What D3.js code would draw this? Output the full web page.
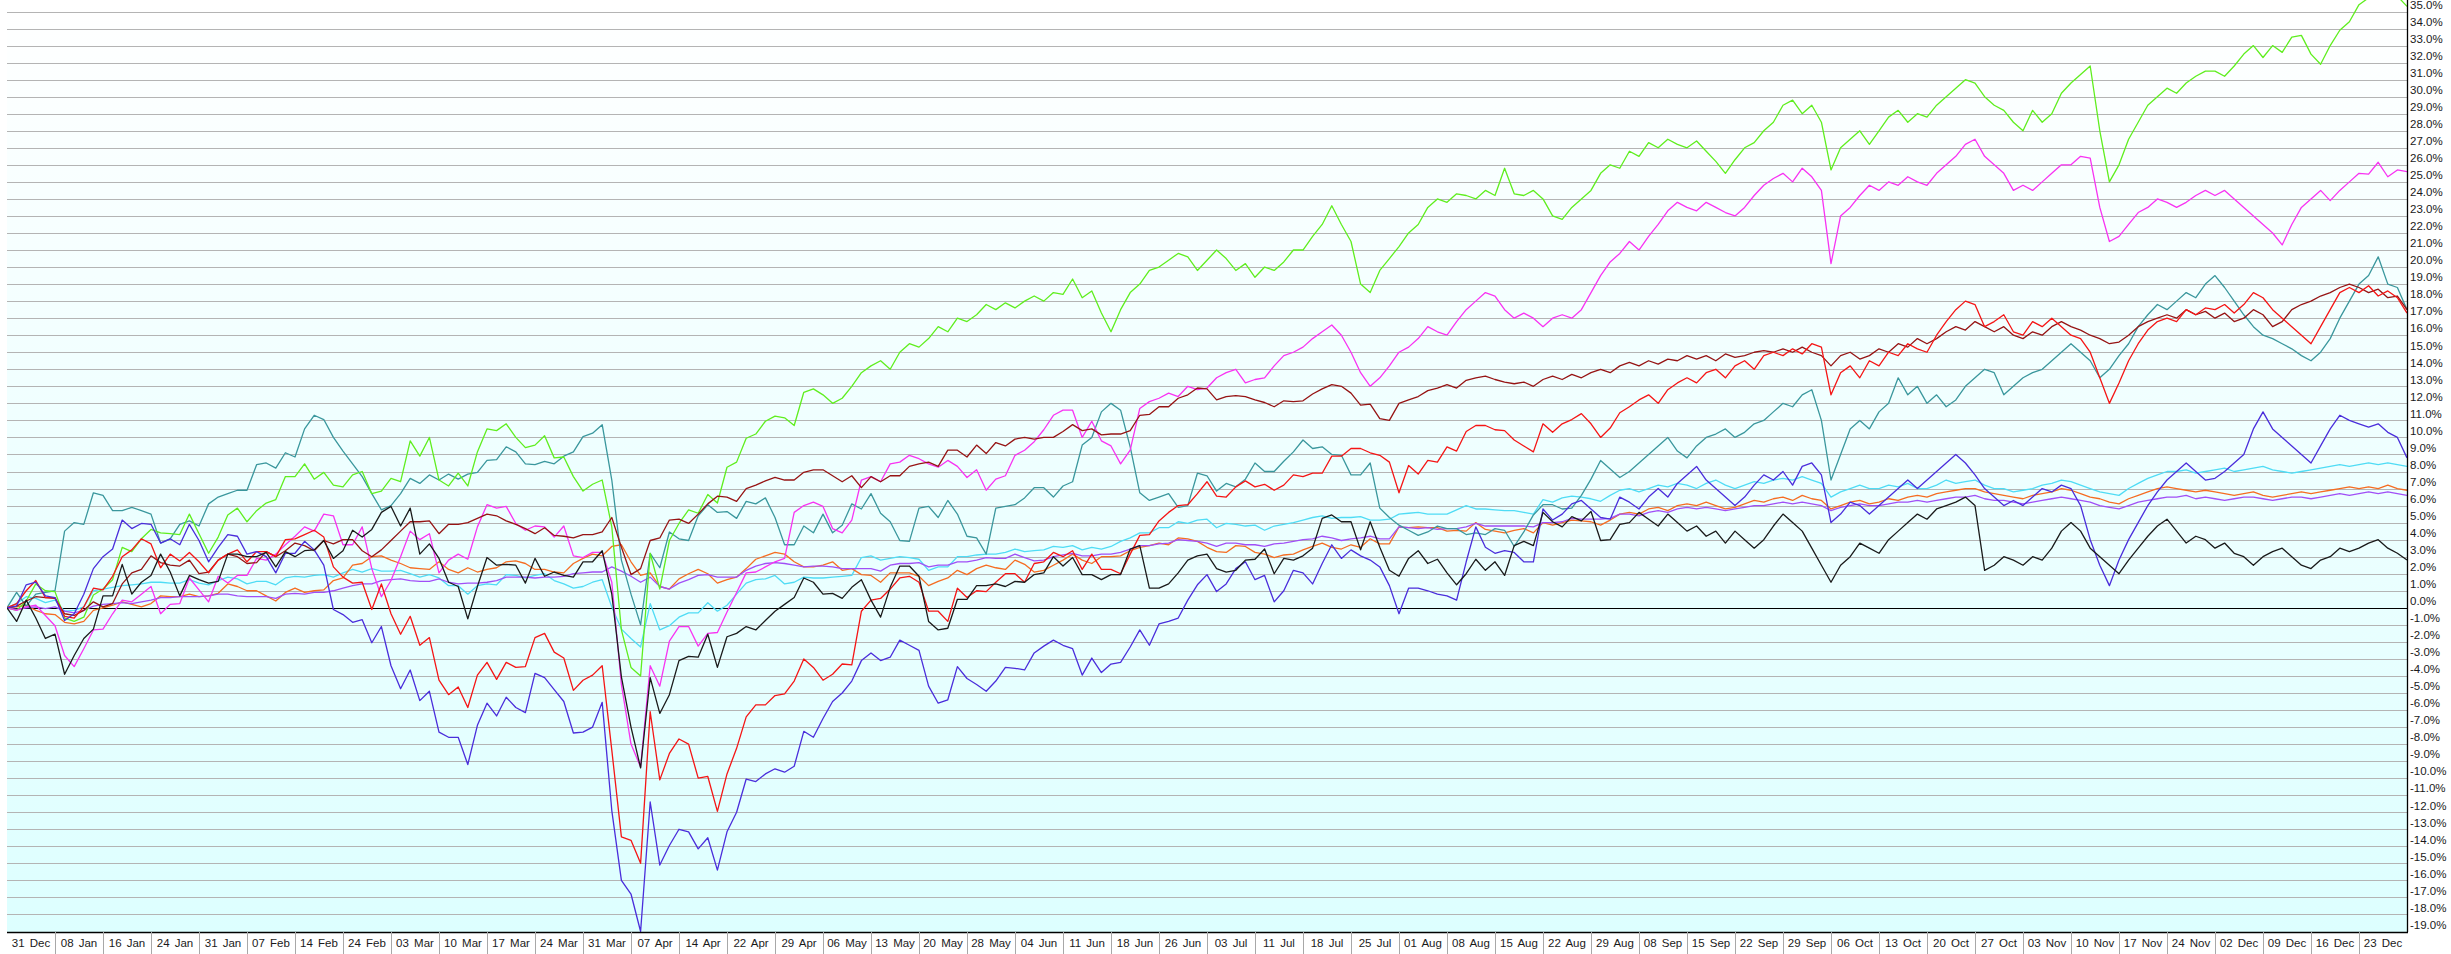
<!DOCTYPE html>
<html><head><meta charset="utf-8">
<script src="https://cdn.jsdelivr.net/npm/d3@7"></script>
<style>
body{margin:0;background:#fff;}
svg{display:block;}
text{font-family:"Liberation Sans",Arial,sans-serif;}
</style></head>
<body><svg id="chart" width="2451" height="954"></svg>
<script>
const tickLabels = ["31 Dec","08 Jan","16 Jan","24 Jan","31 Jan","07 Feb","14 Feb","24 Feb","03 Mar","10 Mar","17 Mar","24 Mar","31 Mar","07 Apr","14 Apr","22 Apr","29 Apr","06 May","13 May","20 May","28 May","04 Jun","11 Jun","18 Jun","26 Jun","03 Jul","11 Jul","18 Jul","25 Jul","01 Aug","08 Aug","15 Aug","22 Aug","29 Aug","08 Sep","15 Sep","22 Sep","29 Sep","06 Oct","13 Oct","20 Oct","27 Oct","03 Nov","10 Nov","17 Nov","24 Nov","02 Dec","09 Dec","16 Dec","23 Dec"];
const tickStep = 5;
const yTicks = d3.range(-19, 36, 1);

const green = [0,-0.15,0.4,1.4,1.0,0.95,-0.6,-0.8,-0.55,0.75,
1.1,1.65,3.55,3.3,4.05,4.6,4.4,4.35,4.3,5.5,
4.35,3.2,4.15,5.45,5.85,5.05,5.7,6.15,6.35,7.7,
7.7,8.45,7.55,7.95,7.2,7.1,7.8,8.0,6.7,6.85,
7.6,7.4,9.8,8.9,10.0,7.5,7.15,7.9,7.15,9.15,
10.5,10.4,10.8,10.0,9.4,9.55,10.1,8.8,8.85,7.7,
6.85,7.25,7.5,4.75,-1.3,-3.5,-4.0,3.2,1.1,3.95,
4.95,5.75,5.55,6.65,6.15,8.25,8.55,9.95,10.2,10.95,
11.25,11.15,10.7,12.65,12.85,12.5,12.0,12.3,13.0,13.8,
14.2,14.5,14.0,15.0,15.5,15.3,15.8,16.5,16.2,17.0,
16.8,17.2,17.8,17.5,17.9,17.6,18.0,18.3,18.0,18.5,
18.4,19.3,18.2,18.6,17.3,16.2,17.5,18.5,19.0,19.8,
20.0,20.4,20.8,20.6,19.8,20.4,21.0,20.5,19.8,20.2,
19.4,20.0,19.8,20.3,21.0,21.0,21.8,22.5,23.6,22.5,
21.5,19.0,18.5,19.8,20.5,21.2,22.0,22.5,23.5,24.0,
23.8,24.3,24.2,24.0,24.5,24.2,25.8,24.3,24.2,24.5,
24.0,23.0,22.8,23.5,24.0,24.5,25.5,26.0,25.8,26.8,
26.5,27.3,27.0,27.5,27.2,27.0,27.4,26.8,26.2,25.5,
26.3,27.0,27.3,28.0,28.5,29.5,29.8,29.0,29.5,28.5,
25.7,27.0,27.5,28.0,27.2,28.0,28.8,29.2,28.5,29.0,
28.8,29.5,30.0,30.5,31.0,30.8,30.0,29.5,29.2,28.5,
28.0,29.2,28.5,29.0,30.2,30.8,31.3,31.8,28.0,25.0,
26.0,27.5,28.5,29.5,30.0,30.5,30.2,30.8,31.2,31.5,
31.5,31.2,31.8,32.5,33.0,32.3,33.0,32.6,33.5,33.6,
32.5,31.9,33.0,33.9,34.4,35.4,35.8,36.2,36.3,35.9,
35.3];

const magenta = [0,-0.15,0.05,0.15,-0.45,-1.05,-2.8,-3.45,-2.4,-1.3,
-1.25,-0.35,0.45,0.35,0.8,1.25,-0.35,0.2,0.25,1.75,
1.05,0.35,1.85,1.45,1.9,1.9,2.9,2.8,3.15,3.7,
4.2,4.75,4.5,5.5,5.4,3.7,3.7,4.75,2.3,0.65,
1.6,3.0,4.5,4.0,4.35,2.05,2.8,3.15,2.85,4.75,
6.05,5.85,5.95,4.95,4.55,4.8,4.75,4.15,4.8,3.05,
2.95,3.25,3.25,1.5,-4.5,-8.0,-9.35,-3.4,-4.6,-1.95,
-1.1,-1.1,-2.25,-1.5,-1.45,-0.25,0.9,2.05,2.1,2.4,
2.7,2.9,5.6,6.0,6.2,5.95,4.65,4.4,5.15,7.5,
7.7,7.4,8.45,8.55,8.95,8.75,8.45,8.25,8.65,8.3,
7.65,8.1,6.9,7.55,7.75,8.95,9.25,9.75,10.45,11.3,
11.6,11.6,10.0,10.95,9.8,9.5,8.45,9.25,11.7,12.1,
12.3,12.6,12.4,13.0,12.8,12.9,13.5,13.8,14.0,13.2,
13.4,13.5,14.2,14.8,15.0,15.3,15.8,16.2,16.6,16.0,
15.0,13.8,13.0,13.5,14.2,15.0,15.3,15.8,16.5,16.2,
16.0,16.8,17.5,18.0,18.5,18.3,17.5,17.0,17.3,17.0,
16.5,17.0,17.2,17.0,17.5,18.5,19.5,20.3,20.8,21.5,
21.0,21.8,22.5,23.3,23.8,23.5,23.3,23.8,23.5,23.2,
23.0,23.5,24.2,24.8,25.2,25.5,25.0,25.8,25.3,24.5,
20.2,23.0,23.5,24.2,24.8,24.5,25.0,24.8,25.3,25.0,
24.8,25.5,26.0,26.5,27.2,27.5,26.5,26.0,25.5,24.5,
24.8,24.5,25.0,25.5,26.0,26.0,26.5,26.4,23.5,21.5,
21.8,22.5,23.2,23.5,24.0,23.8,23.5,23.8,24.2,24.5,
24.2,24.5,24.0,23.5,23.0,22.5,22.0,21.3,22.5,23.5,
24.0,24.5,23.9,24.5,25.0,25.5,25.45,26.15,25.3,25.7,
25.6];

const teal = [0,0.9,0.1,0.8,0.9,1.0,4.5,5.0,4.9,6.75,
6.6,5.7,5.7,5.9,5.7,5.5,3.8,4.05,4.9,5.1,
4.8,6.1,6.5,6.7,6.9,6.9,8.4,8.5,8.2,9.1,
8.85,10.5,11.3,11.05,10.0,9.2,8.45,7.7,6.7,5.75,
6.0,6.7,7.6,7.3,7.8,7.5,7.85,7.55,7.85,7.95,
8.65,8.7,9.45,9.15,8.45,8.4,8.6,8.45,8.9,9.15,
10.05,10.25,10.75,7.5,2.8,0.8,-1.0,3.2,2.35,4.45,
4.05,3.95,5.4,6.05,5.6,5.65,5.25,6.25,6.1,6.45,
5.3,3.7,3.7,4.8,4.4,5.5,4.4,4.85,6.1,5.8,
6.7,5.55,5.05,3.95,3.9,5.85,5.95,5.3,6.3,5.5,
4.2,4.1,3.15,5.85,5.95,6.05,6.45,7.05,7.05,6.5,
7.15,7.4,9.55,10.0,11.5,12.0,11.6,9.45,6.75,6.3,
6.5,6.7,5.9,6.0,7.9,7.75,6.85,7.3,7.1,7.55,
8.5,8.0,8.0,8.6,9.15,9.85,9.35,9.45,9.0,8.95,
7.8,7.8,8.5,5.85,5.3,4.85,4.55,4.25,4.45,4.8,
4.65,4.65,4.3,4.4,4.3,4.65,4.55,3.6,4.45,5.45,
6.05,6.05,5.8,5.85,6.6,7.55,8.65,8.15,7.65,8.0,
8.5,9.0,9.5,10.0,9.2,8.8,9.5,10.0,10.2,10.5,
10.0,10.3,10.8,11.0,11.5,12.0,11.8,12.5,12.8,11.0,
7.5,9.0,10.5,11.0,10.5,11.5,12.0,13.5,12.5,13.0,
12.0,12.5,11.8,12.2,13.0,13.5,14.0,13.8,12.5,13.0,
13.5,13.8,14.0,14.5,15.0,15.5,15.0,14.5,13.5,14.0,
14.8,15.5,16.5,17.2,17.8,17.5,18.0,18.5,18.2,19.0,
19.5,18.8,18.0,17.2,16.5,16.0,15.8,15.5,15.2,14.8,
14.5,15.0,15.8,17.0,18.0,19.0,19.5,20.6,19.0,18.8,
17.5];

const red = [0,0.25,1.0,1.6,0.6,0.6,-0.5,-0.6,0.05,1.15,
1.05,1.85,3.0,3.4,4.05,3.75,2.35,3.15,2.75,3.25,
2.7,2.05,2.8,3.15,3.4,2.7,3.3,3.3,3.0,4.0,
4.05,4.3,4.55,4.15,2.4,1.8,1.45,1.5,-0.1,1.4,
-0.35,-1.55,-0.5,-2.2,-1.75,-4.25,-5.1,-4.65,-5.85,-3.95,
-3.2,-4.2,-3.2,-3.5,-3.45,-1.75,-1.5,-2.6,-2.95,-4.85,
-4.25,-3.95,-3.4,-8.35,-13.45,-13.65,-15.0,-6.1,-10.1,-8.55,
-7.7,-8.0,-10.0,-9.9,-11.95,-9.75,-8.25,-6.4,-5.7,-5.7,
-5.15,-5.05,-4.3,-3.0,-3.5,-4.25,-3.9,-3.3,-3.35,-0.2,
0.45,0.55,1.1,1.75,1.85,1.5,-0.2,-0.2,-0.8,1.15,
0.6,1.0,0.95,1.5,2.0,2.0,1.5,2.6,2.7,3.25,
3.0,3.35,2.25,3.15,2.25,2.25,2.0,3.15,4.25,4.3,
5.1,5.6,6.0,6.05,6.7,7.4,6.55,6.5,7.1,7.45,
7.1,7.25,6.9,7.2,7.8,7.7,7.9,7.9,8.9,8.9,
9.35,9.35,9.1,8.95,8.55,6.75,8.35,7.85,8.65,8.55,
9.45,9.2,10.35,10.7,10.7,10.45,10.4,9.85,9.5,9.15,
10.8,10.3,10.8,11.05,11.4,10.8,10.0,10.55,11.45,11.8,
12.2,12.5,12.0,12.8,13.2,13.5,13.2,13.8,14.0,13.5,
14.2,14.5,14.0,14.8,15.0,14.8,15.2,14.9,15.5,15.3,
12.5,13.8,14.2,13.5,14.5,14.2,15.0,14.8,15.5,15.2,
15.0,16.0,16.8,17.5,18.0,17.8,16.5,16.8,17.2,16.2,
16.0,16.8,16.5,17.0,16.5,16.0,15.8,15.0,13.5,12.0,
13.2,14.5,15.5,16.3,16.8,17.0,16.8,17.5,17.2,17.6,
17.5,17.8,17.3,17.8,18.5,18.2,17.5,17.0,16.5,16.0,
15.5,16.5,17.5,18.5,18.8,18.5,18.9,18.3,18.6,18.2,
17.3];

const maroon = [0,0.1,0.4,0.65,0.6,0.55,-0.35,-0.45,-0.15,0.35,
0.05,0.25,1.4,2.05,2.25,3.05,2.65,2.5,2.45,2.8,
2.0,2.1,2.8,3.15,3.0,2.6,2.65,3.3,3.0,3.35,
3.8,3.65,3.35,3.95,3.75,4.0,4.0,3.35,3.0,3.4,
3.95,4.5,5.05,5.05,5.1,4.35,4.9,4.9,5.0,5.25,
5.5,5.4,5.1,4.9,4.65,4.35,4.7,4.25,4.2,4.1,
4.3,4.3,4.45,5.3,3.55,1.95,2.3,3.95,4.1,5.15,
5.2,4.95,5.5,6.1,6.55,6.5,6.25,7.0,7.2,7.45,
7.65,7.5,7.5,7.95,8.1,8.1,7.75,7.4,7.75,7.05,
7.7,7.4,7.75,7.75,8.3,8.45,8.55,8.3,9.25,9.25,
8.85,9.55,9.05,9.7,9.5,9.9,10.0,9.9,10.0,10.0,
10.35,10.75,10.4,10.5,10.15,10.2,10.2,10.4,11.3,11.35,
11.8,11.8,12.3,12.5,12.9,12.85,12.2,12.4,12.45,12.4,
12.2,12.05,11.8,12.15,12.1,12.15,12.55,12.85,13.1,13.0,
12.6,11.9,11.95,11.1,11.0,12.0,12.2,12.4,12.75,12.9,
13.1,12.9,13.35,13.5,13.6,13.4,13.25,13.15,13.25,13.0,
13.4,13.6,13.4,13.7,13.5,13.8,14.0,13.8,14.2,14.4,
14.2,14.5,14.3,14.6,14.5,14.8,14.6,14.8,14.5,14.9,
14.7,14.8,15.0,15.1,15.0,15.2,15.0,15.3,15.0,14.8,
14.2,14.8,15.0,14.6,14.8,15.2,15.0,15.5,15.3,15.8,
15.5,15.8,16.2,16.5,16.3,16.8,16.5,16.2,16.5,16.0,
15.8,16.2,16.0,16.5,16.8,16.5,16.3,16.0,15.8,15.5,
15.6,16.0,16.5,16.8,17.0,17.2,17.0,17.5,17.2,17.4,
17.0,17.3,16.8,17.0,17.5,17.2,16.5,16.8,17.5,17.8,
18.0,18.3,18.5,18.8,19.0,18.8,18.5,18.7,18.2,18.3,
17.5];

const blue = [0,0.1,1.35,1.5,0.7,0.6,-0.75,-0.35,0.8,2.3,
3.0,3.45,5.15,4.65,4.95,4.9,3.8,4.05,3.7,4.9,
3.95,2.7,3.55,4.3,4.2,3.15,3.3,3.0,2.05,3.2,
3.2,3.9,3.4,2.5,-0.1,-0.4,-0.85,-0.7,-2.05,-1.1,
-3.4,-4.75,-3.65,-5.45,-4.9,-7.3,-7.6,-7.6,-9.2,-6.9,
-5.6,-6.35,-5.25,-5.85,-6.15,-3.85,-4.1,-4.8,-5.5,-7.35,
-7.3,-7.0,-5.55,-11.9,-16.0,-16.8,-19.0,-11.4,-15.1,-13.95,
-13.0,-13.15,-14.15,-13.5,-15.4,-13.15,-12.0,-10.05,-10.2,-9.75,
-9.45,-9.65,-9.3,-7.25,-7.6,-6.5,-5.5,-5.0,-4.3,-3.1,
-2.65,-3.1,-2.9,-1.9,-2.2,-2.5,-4.6,-5.6,-5.4,-3.45,
-4.15,-4.5,-4.9,-4.3,-3.5,-3.55,-3.65,-2.65,-2.25,-1.9,
-2.2,-2.4,-3.95,-2.95,-3.8,-3.3,-3.2,-2.3,-1.3,-2.2,
-0.95,-0.8,-0.6,0.45,1.35,1.95,0.95,1.4,2.3,2.7,
1.65,1.9,0.35,1.0,2.2,2.05,1.4,2.6,3.7,2.9,
3.4,3.05,2.8,2.4,1.3,-0.35,1.15,1.15,1.0,0.8,
0.7,0.45,2.7,4.75,3.55,3.2,3.35,3.25,2.7,2.7,
5.8,5.15,5.5,6.1,6.3,5.8,5.3,5.2,6.5,6.2,
5.8,6.5,7.0,6.5,7.3,7.8,8.3,7.5,7.0,6.5,
6.0,6.5,7.2,7.8,7.5,8.0,7.2,8.3,8.5,7.8,
5.0,5.5,6.2,6.0,5.5,6.0,6.5,7.0,7.5,7.0,
7.5,8.0,8.5,9.0,8.5,7.8,7.0,6.5,6.0,6.3,
6.0,6.5,7.0,6.8,7.2,7.0,6.0,4.0,2.5,1.3,
2.8,4.0,5.0,6.0,6.8,7.5,8.0,8.5,8.0,7.5,
7.6,8.0,8.5,9.0,10.5,11.5,10.5,10.0,9.5,9.0,
8.5,9.5,10.5,11.3,11.0,10.8,10.6,10.8,10.3,10.0,
8.8];

const black = [0,-0.8,0.45,-0.6,-1.8,-1.55,-3.9,-2.8,-1.8,-1.25,
0.7,0.7,2.55,0.8,1.5,1.9,3.15,2.1,0.7,1.9,
1.65,1.45,1.55,3.15,3.15,3.0,3.0,3.25,2.4,3.3,
3.0,3.35,3.4,3.95,2.9,3.35,4.55,4.15,4.6,5.6,
5.95,4.8,5.85,3.15,3.75,2.9,1.5,1.25,-0.65,1.25,
2.95,2.5,2.55,2.5,1.45,2.9,1.85,2.1,1.9,1.8,
2.7,2.7,3.35,0.8,-4.05,-7.0,-9.4,-4.1,-6.2,-5.1,
-3.1,-2.85,-2.9,-1.55,-3.5,-1.7,-1.5,-1.1,-1.3,-0.75,
-0.2,0.2,0.6,1.75,1.5,0.8,0.85,0.55,1.2,1.65,
0.45,-0.55,1.2,2.45,2.45,1.85,-0.8,-1.3,-1.2,0.5,
0.5,1.3,1.3,1.4,1.25,1.55,1.5,1.95,2.05,3.0,
2.45,2.95,1.95,1.95,1.65,1.95,1.95,3.45,3.65,1.15,
1.15,1.4,2.05,2.8,3.05,3.15,2.3,2.1,2.2,2.8,
2.85,3.45,2.0,2.9,2.8,3.05,3.5,5.25,5.45,5.05,
5.05,3.4,5.05,3.55,2.2,1.85,2.9,3.35,2.6,2.85,
2.05,1.35,2.0,2.85,2.2,2.7,1.9,3.65,3.9,3.65,
5.6,5.05,4.75,5.35,5.1,5.65,3.95,4.0,4.9,5.0,
5.6,5.2,4.8,5.5,5.0,4.5,4.8,4.2,4.5,3.8,
4.5,4.0,3.5,4.0,4.8,5.5,5.0,4.5,3.5,2.5,
1.5,2.5,3.0,3.8,3.5,3.2,4.0,4.5,5.0,5.5,
5.2,5.8,6.0,6.2,6.5,6.0,2.2,2.5,3.0,2.8,
2.5,3.0,2.8,3.5,4.5,5.0,4.5,3.5,3.0,2.5,
2.0,2.8,3.5,4.2,4.8,5.2,4.5,3.8,4.2,4.0,
3.5,3.8,3.2,3.0,2.5,3.0,3.3,3.5,3.0,2.5,
2.3,2.8,3.0,3.5,3.3,3.5,3.8,4.0,3.5,3.2,
2.8];

const cyan = [0,0.25,0.65,0.55,0.3,0.45,-0.2,-0.15,0.05,1.0,
1.1,1.2,1.3,1.35,1.4,1.5,1.5,1.45,1.45,1.65,
1.45,1.35,1.6,1.8,1.7,1.4,1.55,1.55,1.35,1.75,
1.85,1.8,1.9,1.95,1.8,2.05,2.25,2.1,2.3,2.15,
2.15,2.2,2.0,1.8,1.95,1.75,1.3,1.3,0.8,1.3,
1.4,1.35,1.95,1.9,1.75,1.9,2.0,1.6,1.4,1.15,
1.25,1.5,1.65,0.05,-1.25,-1.8,-2.3,0.25,-1.3,-1.05,
-0.55,-0.3,-0.3,0.3,-0.2,0.15,0.8,1.45,1.65,1.7,
1.9,1.4,1.5,1.8,1.75,1.75,1.8,1.85,1.9,2.95,
3.05,2.8,2.9,3.0,2.95,2.85,2.2,2.4,2.4,3.0,
3.0,3.1,3.15,3.15,3.25,3.45,3.3,3.35,3.4,3.6,
3.55,3.65,3.4,3.55,3.45,3.6,3.9,4.1,4.4,4.4,
4.7,4.7,5.05,4.95,5.15,5.2,4.7,4.95,4.9,4.8,
4.85,4.55,4.8,4.9,5.0,5.15,5.3,5.4,5.25,5.3,
5.3,5.35,5.15,5.15,5.2,5.5,5.55,5.6,5.5,5.5,
5.5,5.75,6.0,5.8,5.8,5.75,5.7,5.7,5.6,5.5,
6.35,6.2,6.45,6.55,6.5,6.4,6.25,6.6,6.9,7.0,
6.8,7.0,7.2,7.1,7.3,7.2,7.0,7.3,7.5,7.2,
7.0,7.2,7.4,7.3,7.5,7.6,7.5,7.7,7.5,7.3,
6.5,6.8,7.0,7.2,7.0,7.0,7.2,7.1,7.3,7.0,
7.0,7.2,7.5,7.3,7.4,7.5,7.2,7.0,7.0,6.8,
6.9,7.0,7.2,7.3,7.5,7.4,7.2,7.0,6.8,6.7,
6.6,7.0,7.3,7.6,7.8,8.0,8.0,8.1,7.9,8.0,
8.1,8.2,8.0,8.1,8.2,8.3,8.1,8.0,7.9,8.0,
8.1,8.2,8.3,8.4,8.3,8.4,8.5,8.4,8.5,8.4,
8.3];

const orange = [0,0.05,0.15,-0.15,-0.35,-0.4,-0.85,-0.95,-0.8,-0.15,
0.0,0.15,0.35,0.2,0.05,0.25,0.7,0.65,0.65,0.8,
0.65,0.7,0.85,1.4,1.25,1.0,1.0,0.7,0.4,0.9,
1.15,0.9,1.0,1.05,1.6,1.75,2.5,2.6,3.0,3.05,
2.8,2.6,2.35,2.3,2.25,2.7,2.25,2.05,2.35,2.1,
2.25,2.35,2.7,2.75,2.6,2.25,2.25,2.1,2.05,2.6,
2.9,3.15,3.05,3.6,3.7,2.7,1.9,2.05,1.25,1.1,
1.7,2.0,2.25,2.0,1.45,1.65,1.8,2.3,2.85,3.05,
3.25,3.15,2.7,2.4,2.4,2.5,2.7,2.2,2.3,1.95,
1.9,1.5,2.05,2.05,2.05,1.85,1.3,1.55,1.75,2.2,
1.95,2.3,2.5,2.35,2.25,2.8,2.55,2.1,2.2,2.5,
2.8,3.15,2.8,2.6,3.0,3.0,3.05,3.35,3.55,3.65,
3.8,3.7,4.1,4.05,3.9,3.55,3.3,3.25,3.65,3.6,
3.25,3.15,2.95,3.1,3.15,3.4,3.6,3.8,3.55,3.45,
3.7,3.55,4.05,3.75,3.75,4.75,4.7,4.75,4.7,4.7,
4.5,4.55,4.5,5.0,4.6,4.5,4.4,4.55,4.65,4.4,
5.0,4.85,5.0,5.15,5.1,5.05,4.85,5.15,5.5,5.6,
5.5,5.8,5.9,5.7,6.0,6.1,6.0,6.2,6.0,5.8,
5.9,6.1,6.3,6.2,6.4,6.5,6.3,6.6,6.4,6.3,
5.8,6.0,6.2,6.3,6.1,6.2,6.4,6.3,6.5,6.6,
6.5,6.7,6.8,6.9,7.0,7.0,6.8,6.7,6.6,6.5,
6.4,6.6,6.7,6.8,7.0,6.9,6.7,6.5,6.4,6.2,
6.1,6.4,6.6,6.8,7.0,7.1,7.0,6.9,6.8,6.9,
6.8,6.7,6.6,6.7,6.8,6.6,6.5,6.6,6.7,6.8,
6.7,6.8,6.9,7.0,7.1,7.0,7.1,7.0,7.2,7.0,
6.9];

const purple = [0,-0.1,0.0,0.05,-0.05,0.05,-0.2,-0.3,-0.15,0.1,
0.2,0.25,0.3,0.25,0.35,0.45,0.6,0.6,0.65,0.65,
0.65,0.7,0.8,0.8,0.7,0.65,0.65,0.65,0.55,0.8,
0.85,0.8,0.9,0.9,1.0,1.15,1.3,1.4,1.4,1.6,
1.65,1.7,1.6,1.55,1.55,1.7,1.5,1.4,1.45,1.45,
1.5,1.6,1.8,1.8,1.8,1.75,1.8,1.8,1.85,2.0,
2.05,2.1,2.1,2.4,2.15,1.85,1.5,1.8,1.25,1.1,
1.45,1.65,1.9,1.95,1.8,1.8,1.8,2.2,2.45,2.6,
2.65,2.6,2.5,2.4,2.45,2.45,2.4,2.3,2.3,2.3,
2.3,2.15,2.5,2.6,2.6,2.65,2.4,2.5,2.5,2.7,
2.7,2.8,2.95,2.9,2.9,3.15,2.95,2.75,2.8,3.0,
3.1,3.2,3.05,3.05,3.15,3.15,3.25,3.45,3.65,3.65,
3.75,3.8,4.0,3.95,3.9,3.8,3.6,3.8,3.8,3.7,
3.7,3.6,3.75,3.8,3.9,4.0,4.05,4.2,4.1,3.95,
4.05,4.1,4.2,4.05,4.05,4.75,4.7,4.65,4.7,4.6,
4.65,4.65,4.75,4.95,4.8,4.8,4.8,4.8,4.8,4.75,
5.0,5.0,5.05,5.25,5.2,5.2,5.2,5.25,5.5,5.5,
5.4,5.6,5.7,5.6,5.8,5.9,5.8,5.9,5.8,5.7,
5.8,5.9,6.0,6.0,6.1,6.2,6.1,6.2,6.1,6.0,
5.7,5.9,6.0,6.1,6.0,6.0,6.1,6.2,6.2,6.3,
6.2,6.3,6.4,6.5,6.5,6.6,6.4,6.3,6.3,6.2,
6.1,6.2,6.3,6.4,6.5,6.4,6.3,6.2,6.0,5.9,
5.8,6.0,6.2,6.3,6.4,6.5,6.5,6.6,6.4,6.5,
6.4,6.3,6.4,6.5,6.5,6.4,6.3,6.4,6.5,6.5,
6.4,6.5,6.6,6.7,6.6,6.7,6.8,6.7,6.8,6.7,
6.6];

const series = [
  {name:"cyan", color:"#4fdcf5", values:cyan},
  {name:"orange", color:"#f56d22", values:orange},
  {name:"purple", color:"#a04ff6", values:purple},
  {name:"teal", color:"#3a979d", values:teal},
  {name:"green", color:"#5fee1e", values:green},
  {name:"magenta", color:"#f833f2", values:magenta},
  {name:"maroon", color:"#961414", values:maroon},
  {name:"red", color:"#f51515", values:red},
  {name:"blue", color:"#4a2ddb", values:blue},
  {name:"black", color:"#1a1a1a", values:black}
];

const W = 2451, H = 954;
const L = 7, R = 2407, T = 0, B = 932;
const N = green.length;
const svg = d3.select("#chart");

const x = d3.scaleLinear().domain([0, N - 1]).range([L, R]);
const y = d3.scaleLinear().domain([-19, 35]).range([931.5, 11.5]);

const defs = svg.append("defs");
const grad = defs.append("linearGradient").attr("id","bg").attr("x1",0).attr("y1",0).attr("x2",0).attr("y2",1);
grad.append("stop").attr("offset","0%").attr("stop-color","#ffffff");
grad.append("stop").attr("offset","100%").attr("stop-color","#ddffff");
defs.append("clipPath").attr("id","clip").append("rect").attr("x",L).attr("y",T).attr("width",R-L).attr("height",B-T);

svg.append("rect").attr("x",L).attr("y",T).attr("width",R-L).attr("height",B-T).attr("fill","url(#bg)");

const grid = svg.append("g").attr("transform",`translate(${R},0)`)
  .call(d3.axisLeft(y).tickValues(yTicks).tickSize(R-L).tickFormat(""));
grid.select(".domain").remove();
grid.selectAll("line").attr("stroke","#b4b4b4").attr("stroke-width",1).attr("shape-rendering","crispEdges");

svg.append("line").attr("x1",L).attr("x2",R).attr("y1",Math.round(y(0))+0.5).attr("y2",Math.round(y(0))+0.5)
  .attr("stroke","#000").attr("stroke-width",1.2);

const line = d3.line().x((d,i)=>x(i)).y(d=>y(d));
const gLines = svg.append("g").attr("clip-path","url(#clip)");
series.forEach(s=>{
  gLines.append("path").datum(s.values).attr("d",line).attr("fill","none")
    .attr("stroke",s.color).attr("stroke-width",1.3).attr("stroke-linejoin","round");
});

const ya = svg.append("g").attr("transform",`translate(${R},0)`)
  .call(d3.axisRight(y).tickValues(yTicks).tickSize(0).tickPadding(3).tickFormat(d=>d.toFixed(1)+"%"));
ya.select(".domain").remove();
ya.selectAll("text").attr("font-size","11.5px").attr("fill","#1a1a1a").attr("dy","-0.28em")
  .style("font-family","'Liberation Sans',Arial,sans-serif");

svg.append("line").attr("x1",R+0.5).attr("x2",R+0.5).attr("y1",0).attr("y2",B).attr("stroke","#000").attr("stroke-width",1.3);
svg.append("line").attr("x1",L).attr("x2",R+1).attr("y1",B+0.5).attr("y2",B+0.5).attr("stroke","#000").attr("stroke-width",1.5);

const tickIdx = tickLabels.map((d,k)=>k*tickStep);
const xa = svg.append("g").attr("transform",`translate(0,${B})`)
  .call(d3.axisBottom(x).tickValues(tickIdx.slice(1)).tickSize(H-B).tickFormat(""));
xa.select(".domain").remove();
xa.selectAll("line").attr("stroke","#a8a8a8").attr("shape-rendering","crispEdges");

svg.append("g").selectAll("text").data(tickLabels).join("text")
  .attr("x",(d,k)=>x(tickIdx[k] + tickStep/2))
  .attr("y",947)
  .attr("text-anchor","middle")
  .attr("font-size","11.5px")
  .attr("fill","#1a1a1a")
  .attr("word-spacing","2px")
  .text(d=>d);
</script>
</body></html>
